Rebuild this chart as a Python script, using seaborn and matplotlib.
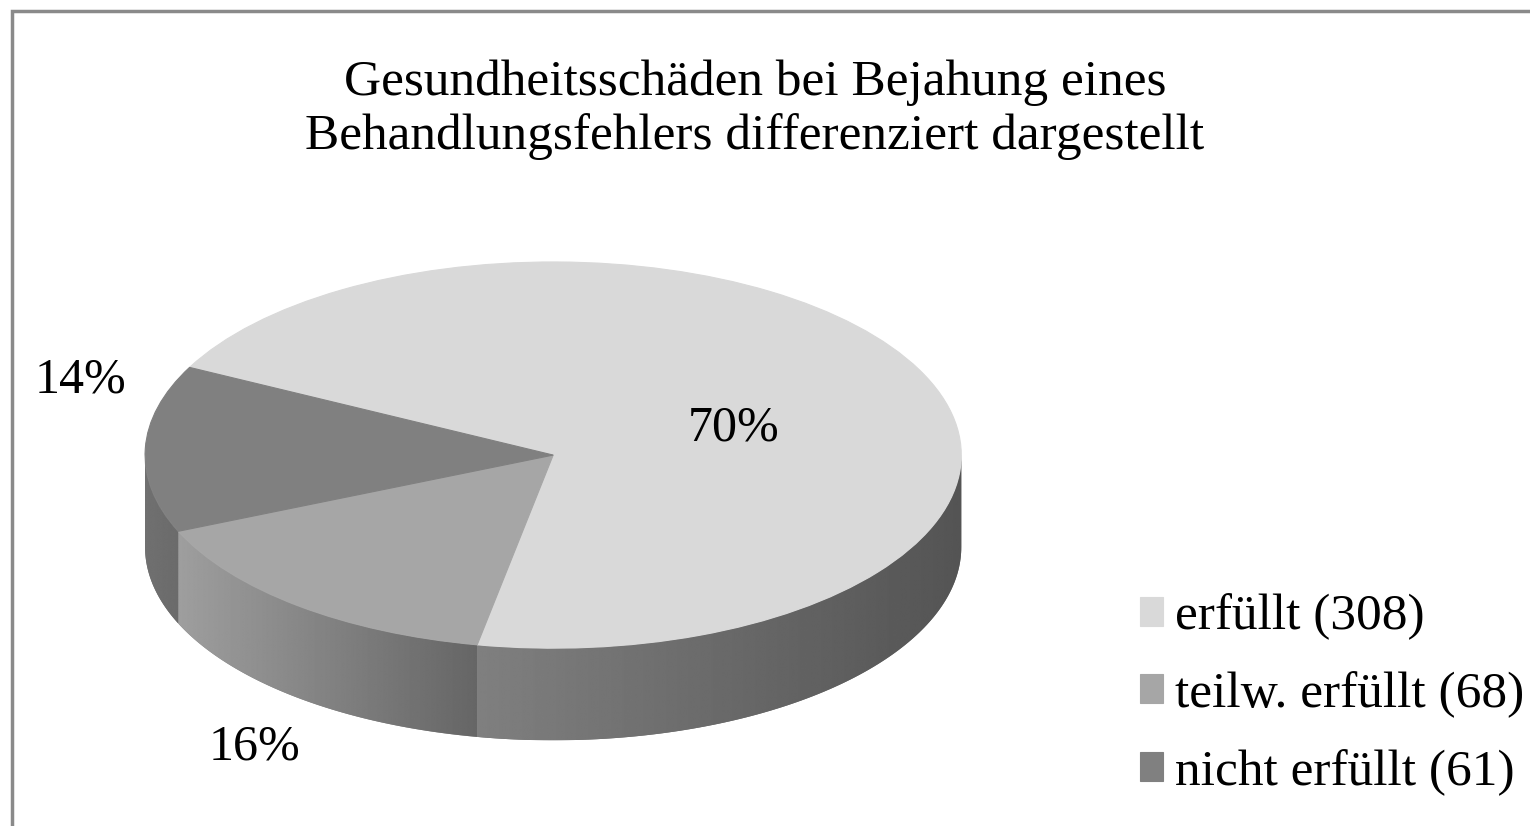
import numpy as np
import matplotlib
matplotlib.use('Agg')
import matplotlib.pyplot as plt
import seaborn as sns
from matplotlib.patches import Polygon, Rectangle

# data
categories = ['erfüllt', 'teilw. erfüllt', 'nicht erfüllt']
counts = [308, 68, 61]
legend_labels = [f'{c} ({n})' for c, n in zip(categories, counts)]

# grey shades: top face, side wall gradient (left -> right)
top_colors = ['#d9d9d9', '#a6a6a6', '#808080']
side_grad = [(0.50, 0.33), (0.62, 0.40), (0.44, 0.42)]
# nudges for the percentage labels (data units)
label_nudge = [(0.02, -0.07), (0.02, -0.1), (0.04, 0.35)]

sns.set_theme(style='white')
plt.rcParams['font.family'] = ['Liberation Serif', 'DejaVu Serif']
plt.rcParams['text.color'] = 'black'

fig = plt.figure(figsize=(15.3, 8.26), dpi=100)
ax = fig.add_axes([0.0148, 0.075, 0.6935, 0.678])

start = 153
depth = 0.477

wedges, texts, autotexts = ax.pie(
    counts, colors=top_colors, startangle=start, counterclock=False,
    autopct='%1.0f%%', pctdistance=0.47,
    textprops=dict(fontsize=36, color='black'),
    wedgeprops=dict(linewidth=0.8))
for w in wedges:
    w.set_edgecolor(w.get_facecolor())
    w.set_zorder(2)

# side wall of the "3d" pie, only the front half is visible
frac = np.array(counts) / np.sum(counts)
bounds = start - np.concatenate([[0], np.cumsum(frac)]) * 360
for i in range(len(counts)):
    a_hi, a_lo = bounds[i], bounds[i + 1]
    for k in range(-2, 2):
        lo = max(a_lo, -180 + 360 * k)
        hi = min(a_hi, 0 + 360 * k)
        if hi <= lo:
            continue
        t = np.radians(np.linspace(lo, hi, 120))
        xs = np.cos(t)
        top = np.column_stack([xs, np.sin(t)])
        bot = np.column_stack([xs, np.sin(t) - depth])[::-1]
        poly = Polygon(np.vstack([top, bot]), closed=True,
                       facecolor=str(np.mean(side_grad[i])), edgecolor='none', zorder=1)
        ax.add_patch(poly)
        grad = np.linspace(side_grad[i][0], side_grad[i][1], 256)[None, :]
        im = ax.imshow(grad, cmap='gray', vmin=0, vmax=1, aspect='auto',
                       extent=[xs.min(), xs.max(), np.sin(t).min() - depth, np.sin(t).max()],
                       interpolation='bilinear', zorder=1.5)
        im.set_clip_path(poly)

# label positions: inside for the big slice, outside for the small ones
for i in range(len(counts)):
    mid = np.radians((bounds[i] + bounds[i + 1]) / 2)
    r = 0.47 if i == 0 else 1.2
    x, y = r * np.cos(mid), r * np.sin(mid)
    if i > 0 and y < 0:
        y -= depth
    autotexts[i].set_position((x + label_nudge[i][0], y + label_nudge[i][1]))
    autotexts[i].set_ha('center')
    autotexts[i].set_va('center')
    autotexts[i].set_zorder(3)

ax.set_aspect('auto')
ax.set_xlim(-1.3, 1.3)
ax.set_ylim(-1.6, 1.3)
ax.axis('off')

fig.text(0.4935, 0.867, 'Gesundheitsschäden bei Bejahung eines\nBehandlungsfehlers differenziert dargestellt',
         ha='center', va='center', fontsize=37, linespacing=1.2)

fig.legend(wedges, legend_labels, loc='center left', bbox_to_anchor=(0.745, 0.159),
           frameon=False, fontsize=37, handlelength=0.45, handleheight=0.5,
           handletextpad=0.24, labelspacing=0.6, borderpad=0, borderaxespad=0)

# outer chart border (cut off at right and bottom)
fig.patches.append(Rectangle((0.0078, -0.02), 1.1, 1.02 - 0.0139, transform=fig.transFigure,
                             fill=False, edgecolor='#8a8a8a', linewidth=2.5))

fig.savefig('out.png', dpi=100)
